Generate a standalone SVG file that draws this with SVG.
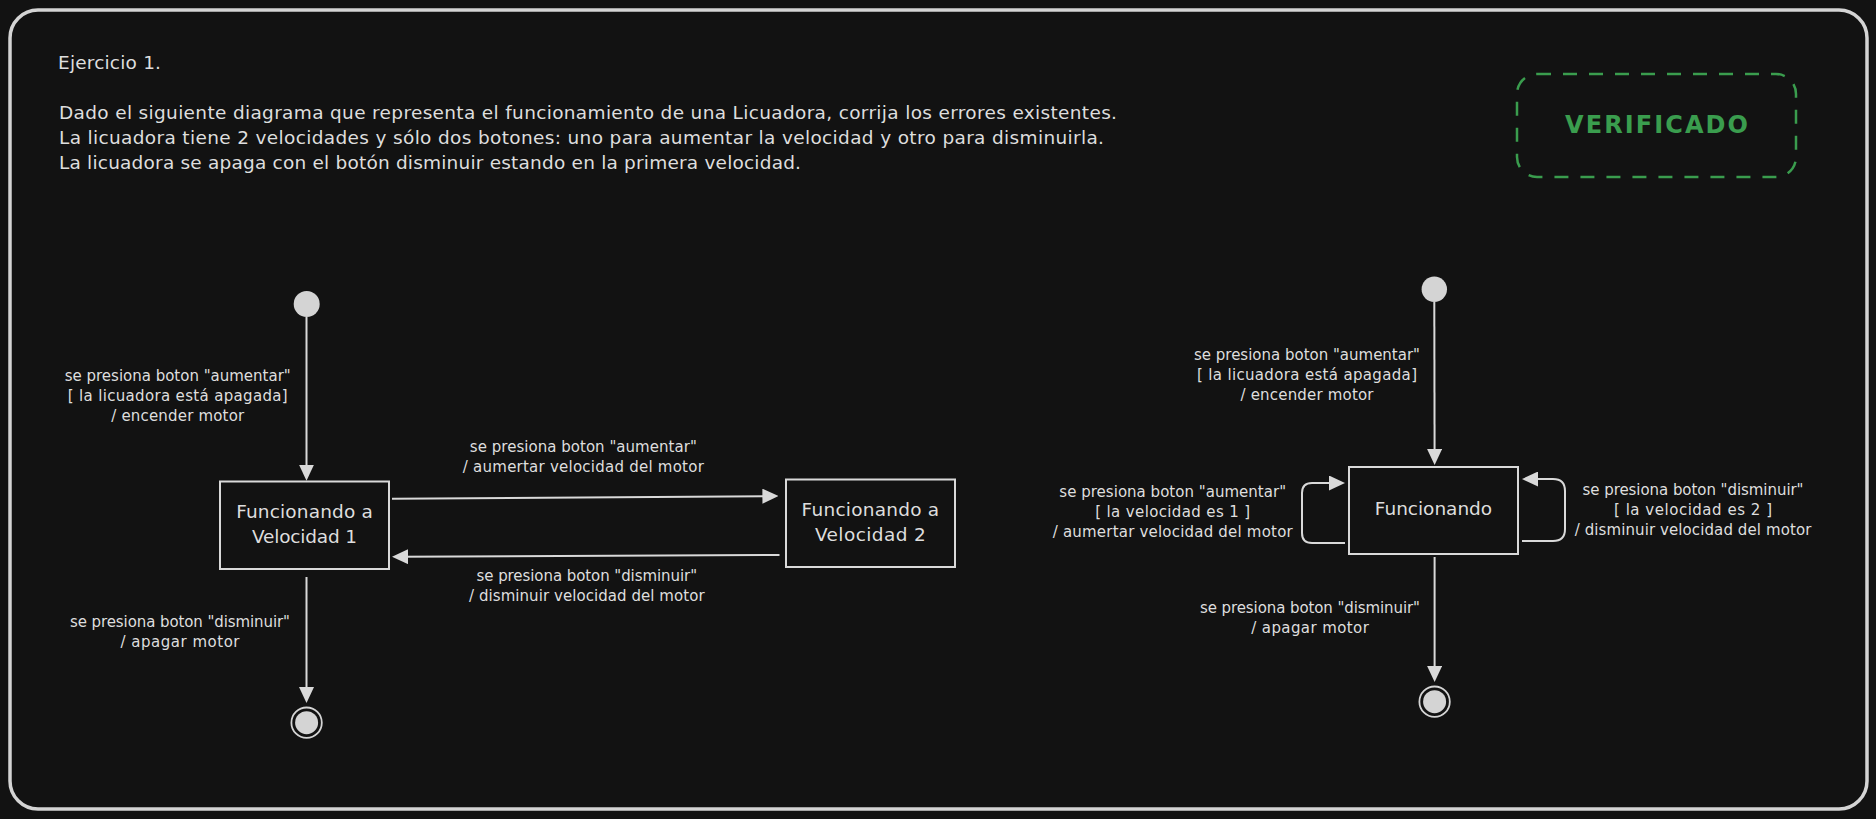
<svg xmlns="http://www.w3.org/2000/svg" width="1876" height="819" viewBox="0 0 1876 819">
<defs>
<style>
.bg{fill:#121212}
.frame{fill:none;stroke:#d4d4d4;stroke-width:3.5}
.box{fill:#121212;stroke:#d9d9d9;stroke-width:2}
.conn{fill:none;stroke:#d9d9d9;stroke-width:2;marker-end:url(#ah)}
.dot{fill:#d4d4d4}
.ring{fill:none;stroke:#d4d4d4;stroke-width:1.8}
text{font-family:"DejaVu Sans","Liberation Sans",sans-serif;fill:#dedede}
.body{font-size:18.5px}
.node{font-size:18.5px;text-anchor:middle}
.lbl{font-size:15px;text-anchor:middle}
.ok{font-size:24px;font-weight:bold;fill:#3a9d4e;text-anchor:middle}
</style>
<marker id="ah" viewBox="0 0 16 15" refX="8" refY="7.5" markerWidth="16" markerHeight="15" markerUnits="userSpaceOnUse" orient="auto">
<path d="M0,0 L16,7.5 L0,15 z" fill="#d9d9d9"/>
</marker>
</defs>
<rect class="bg" x="0" y="0" width="1876" height="819"/>
<rect class="frame" x="10" y="10" width="1857" height="799" rx="28" ry="28"/>

<g id="enunciado">
<text class="body" x="58" y="69" textLength="103" lengthAdjust="spacing">Ejercicio 1.</text>
<text class="body" x="59" y="119" textLength="1058" lengthAdjust="spacing">Dado el siguiente diagrama que representa el funcionamiento de una Licuadora, corrija los errores existentes.</text>
<text class="body" x="59" y="144" textLength="1045" lengthAdjust="spacing">La licuadora tiene 2 velocidades y sólo dos botones: uno para aumentar la velocidad y otro para disminuirla.</text>
<text class="body" x="59" y="169" textLength="742" lengthAdjust="spacing">La licuadora se apaga con el botón disminuir estando en la primera velocidad.</text>
</g>

<g id="verificado">
<rect x="1517" y="74" width="279" height="103" rx="20" ry="20" fill="none" stroke="#3a9d4e" stroke-width="2.5" stroke-dasharray="14 12"/>
<text class="ok" x="1656.5" y="132.5" textLength="183" lengthAdjust="spacing">VERIFICADO</text>
</g>

<g id="connectors">
<path class="conn" d="M306.5,317 L306.5,472.7"/>
<path class="conn" d="M306.5,577 L306.5,695"/>
<path class="conn" d="M392,498.7 L770.4,496.1"/>
<path class="conn" d="M779.5,555 L400,556.7"/>
<path class="conn" d="M1434.3,302 L1434.6,457"/>
<path class="conn" d="M1434.6,557 L1434.6,674"/>
<path class="conn" d="M1345,543 L1312,543 Q1302,543 1302,533 L1302,493 Q1302,483 1312,483 L1337,483"/>
<path class="conn" d="M1522,541 L1553,541 Q1565,541 1565,529 L1565,491 Q1565,479 1553,479 L1530,479"/>
</g>

<g id="labels">
<text class="lbl" x="177.7" y="381" textLength="226" lengthAdjust="spacing">se presiona boton "aumentar"</text>
<text class="lbl" x="177.7" y="401" textLength="220" lengthAdjust="spacing">[ la licuadora está apagada]</text>
<text class="lbl" x="177.7" y="421" textLength="133" lengthAdjust="spacing">/ encender motor</text>

<text class="lbl" x="180" y="627" textLength="220" lengthAdjust="spacing">se presiona boton "disminuir"</text>
<text class="lbl" x="180" y="647" textLength="119" lengthAdjust="spacing">/ apagar motor</text>

<text class="lbl" x="583.3" y="452" textLength="227" lengthAdjust="spacing">se presiona boton "aumentar"</text>
<text class="lbl" x="583.3" y="472" textLength="241" lengthAdjust="spacing">/ aumertar velocidad del motor</text>

<text class="lbl" x="586.8" y="581" textLength="220.5" lengthAdjust="spacing">se presiona boton "disminuir"</text>
<text class="lbl" x="586.8" y="601" textLength="235.6" lengthAdjust="spacing">/ disminuir velocidad del motor</text>

<text class="lbl" x="1307" y="360" textLength="226" lengthAdjust="spacing">se presiona boton "aumentar"</text>
<text class="lbl" x="1307" y="380" textLength="220" lengthAdjust="spacing">[ la licuadora está apagada]</text>
<text class="lbl" x="1307" y="400" textLength="133" lengthAdjust="spacing">/ encender motor</text>

<text class="lbl" x="1172.7" y="497" textLength="226.7" lengthAdjust="spacing">se presiona boton "aumentar"</text>
<text class="lbl" x="1172.7" y="517" textLength="155" lengthAdjust="spacing">[ la velocidad es 1 ]</text>
<text class="lbl" x="1172.7" y="537" textLength="240" lengthAdjust="spacing">/ aumertar velocidad del motor</text>

<text class="lbl" x="1693" y="495" textLength="221" lengthAdjust="spacing">se presiona boton "disminuir"</text>
<text class="lbl" x="1693" y="515" textLength="158" lengthAdjust="spacing">[ la velocidad es 2 ]</text>
<text class="lbl" x="1693" y="535" textLength="236.7" lengthAdjust="spacing">/ disminuir velocidad del motor</text>

<text class="lbl" x="1310" y="613" textLength="220" lengthAdjust="spacing">se presiona boton "disminuir"</text>
<text class="lbl" x="1310" y="633" textLength="117.7" lengthAdjust="spacing">/ apagar motor</text>
</g>

<g id="inicio1"><circle class="dot" cx="306.7" cy="304" r="13"/></g>
<g id="v1">
<rect class="box" x="220" y="481.5" width="169" height="87.5"/>
<text class="node" x="304.5" y="518" textLength="136.7" lengthAdjust="spacing">Funcionando a</text>
<text class="node" x="304.5" y="543" textLength="105" lengthAdjust="spacing">Velocidad 1</text>
</g>
<g id="v2">
<rect class="box" x="786" y="479.5" width="169" height="87.5"/>
<text class="node" x="870.4" y="516" textLength="137.6" lengthAdjust="spacing">Funcionando a</text>
<text class="node" x="870.4" y="541" textLength="111" lengthAdjust="spacing">Velocidad 2</text>
</g>
<g id="fin1">
<circle class="ring" cx="306.6" cy="722.7" r="15.2"/>
<circle class="dot" cx="306.6" cy="722.7" r="11.5"/>
</g>

<g id="inicio2"><circle class="dot" cx="1434.3" cy="289.3" r="12.7"/></g>
<g id="funcionando">
<rect class="box" x="1349" y="467" width="169" height="87"/>
<text class="node" x="1433.5" y="515" textLength="117.3" lengthAdjust="spacing">Funcionando</text>
</g>
<g id="fin2">
<circle class="ring" cx="1434.6" cy="701.7" r="15.2"/>
<circle class="dot" cx="1434.6" cy="701.7" r="11.5"/>
</g>
</svg>
